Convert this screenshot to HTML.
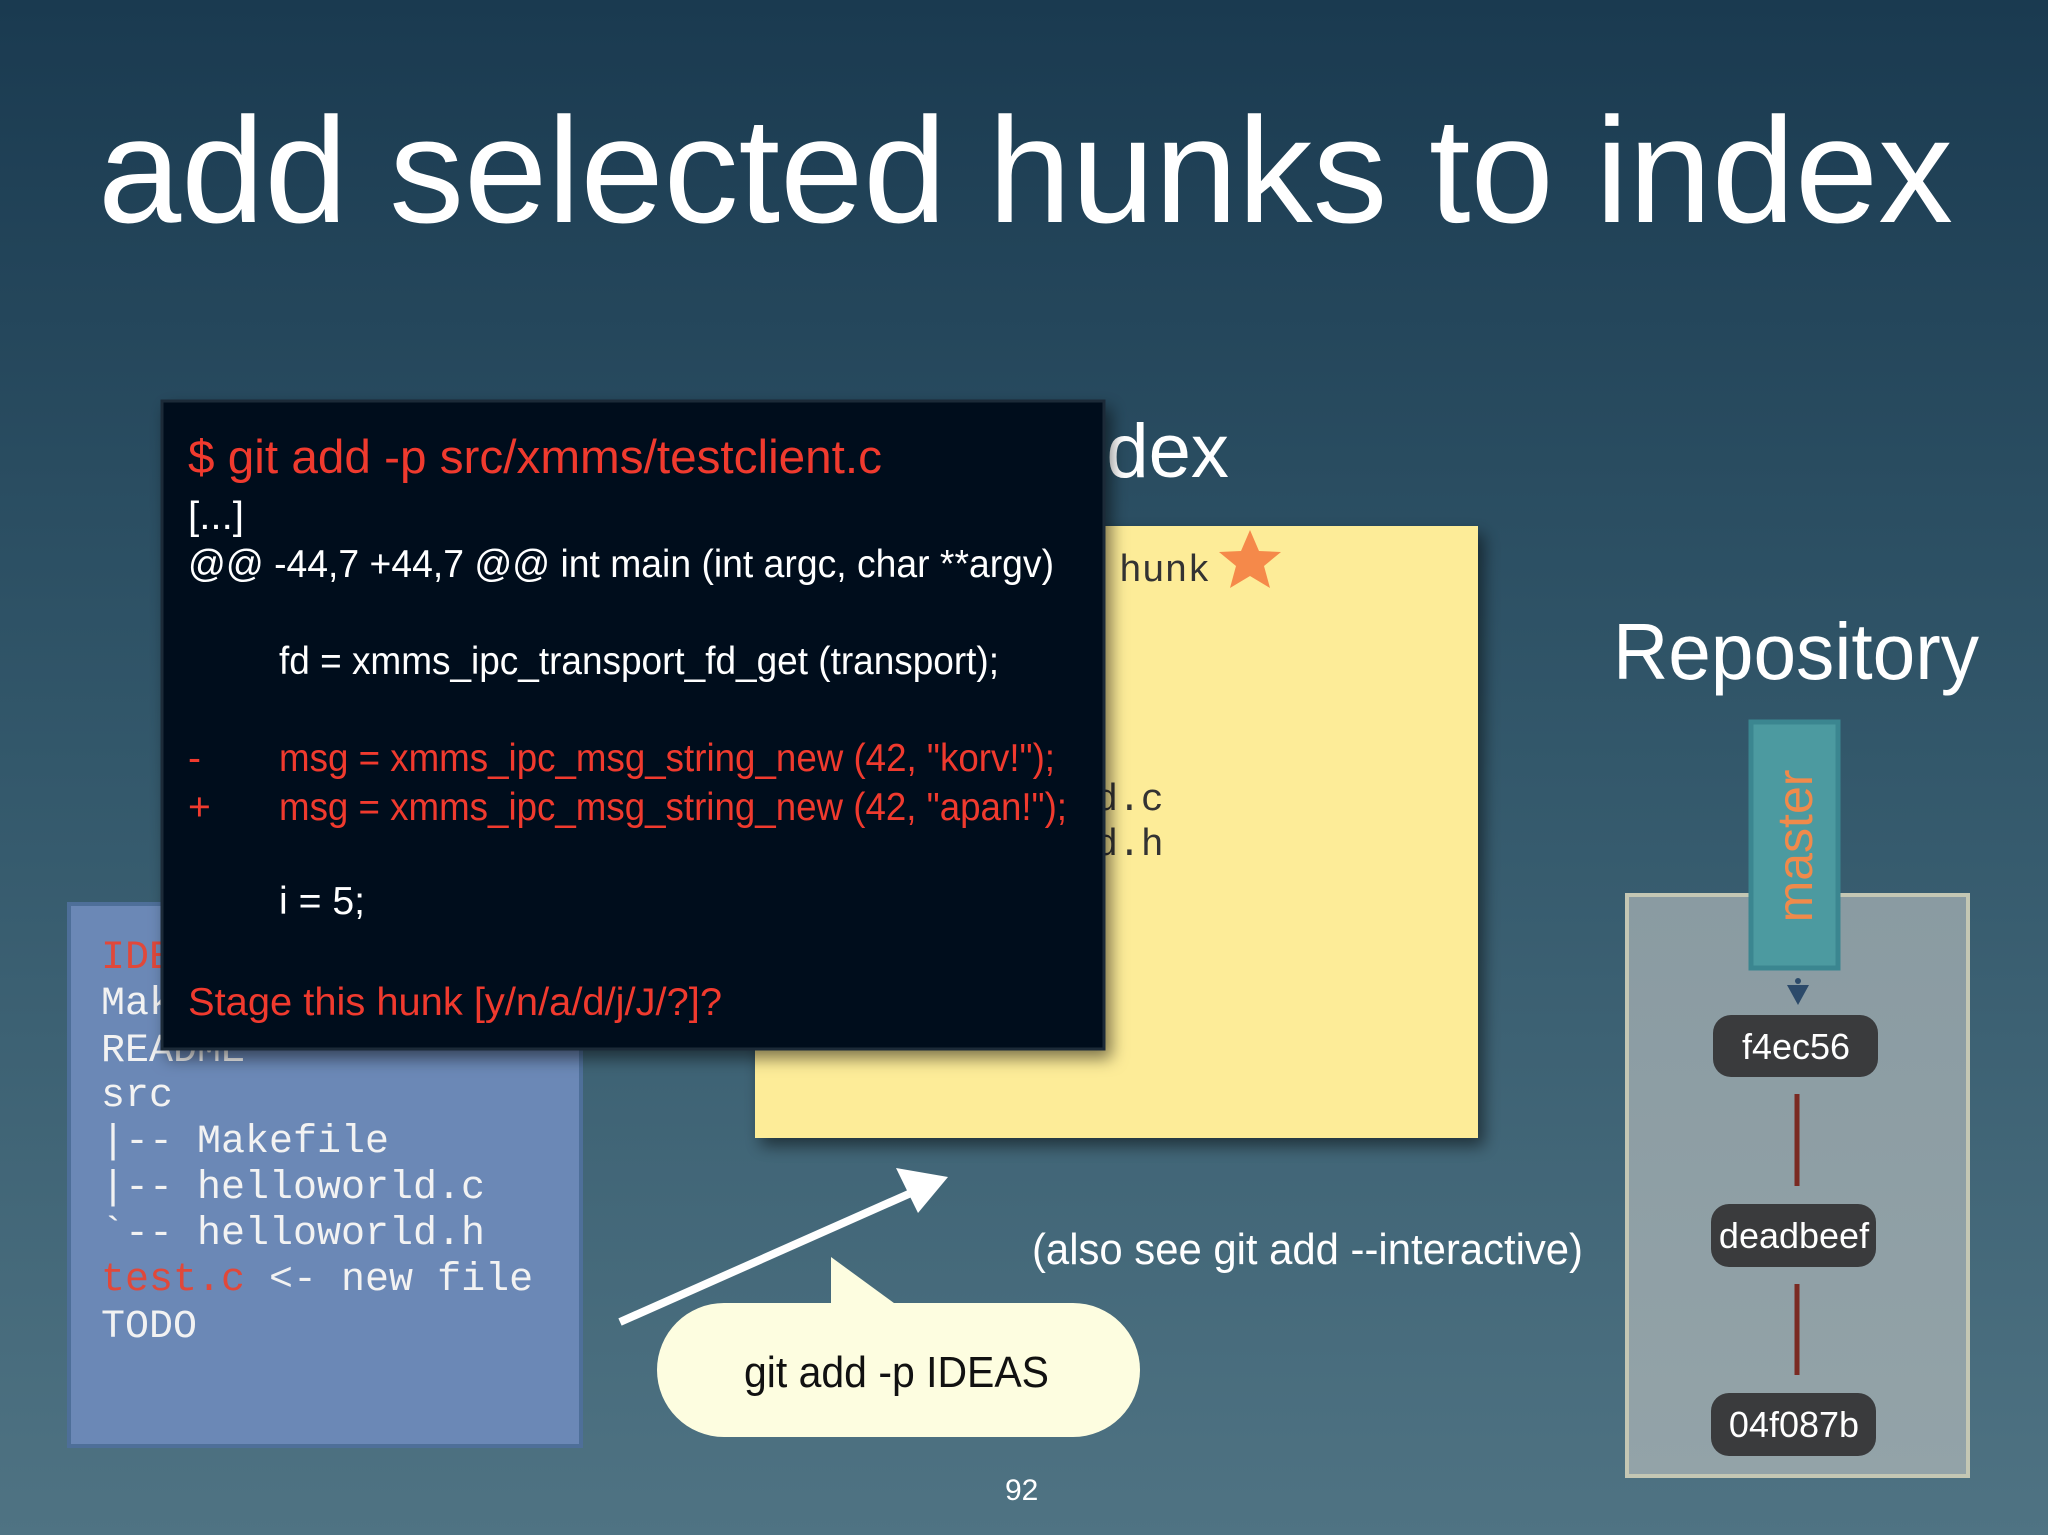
<!DOCTYPE html>
<html><head><meta charset="utf-8"><style>
html,body{margin:0;padding:0;width:2048px;height:1535px;overflow:hidden}
svg{display:block}
</style></head><body>
<svg width="2048" height="1535" viewBox="0 0 2048 1535" xmlns="http://www.w3.org/2000/svg">
<defs>
<linearGradient id="bg" x1="0" y1="0" x2="0" y2="1">
<stop offset="0" stop-color="#1a3a50"/><stop offset="0.5" stop-color="#33586b"/><stop offset="1" stop-color="#4f7383"/>
</linearGradient>
<linearGradient id="repo" x1="0" y1="0" x2="0" y2="1">
<stop offset="0" stop-color="#8a9ba2"/><stop offset="1" stop-color="#93a3a8"/>
</linearGradient>
<filter id="sh" x="-10%" y="-10%" width="130%" height="130%"><feDropShadow dx="6" dy="8" stdDeviation="8" flood-color="#000" flood-opacity="0.5"/></filter>
</defs>
<rect width="2048" height="1535" fill="url(#bg)"/>
<text x="98" y="222" font-family="Liberation Sans, sans-serif" font-size="150" fill="#fff" textLength="1855" lengthAdjust="spacingAndGlyphs">add selected hunks to index</text>

<!-- blue working dir -->
<rect x="69" y="904" width="512" height="542" fill="#6b88b6" stroke="#4e6f99" stroke-width="4"/>
<g font-family="Liberation Mono, monospace" font-size="40" fill="#f2f2f2">
<text x="101" y="968" fill="#e0483a">IDEAS</text>
<text x="101" y="1014">Makefile</text>
<text x="101" y="1061">README</text>
<text x="101" y="1106">src</text>
<text x="101" y="1152">|-- Makefile</text>
<text x="101" y="1198">|-- helloworld.c</text>
<text x="101" y="1244">`-- helloworld.h</text>
<text x="101" y="1290"><tspan fill="#e0483a">test.c</tspan> &lt;- new file</text>
<text x="101" y="1337">TODO</text>
</g>

<!-- index -->
<text x="1043" y="477" font-family="Liberation Sans, sans-serif" font-size="76" fill="#fff">Index</text>
<rect x="755" y="526" width="723" height="612" fill="#fdec98" filter="url(#sh)"/>
<g font-family="Liberation Mono, monospace" font-size="38" fill="#333">
<text x="1119" y="581">hunk</text>
<text x="890" y="810">helloworld.c</text>
<text x="890" y="855">helloworld.h</text>
</g>
<polygon points="1250,530 1259,551 1281,552 1264,566 1270,588 1250,576 1230,588 1236,566 1219,552 1241,551" fill="#f5894a"/>

<!-- terminal -->
<rect x="162" y="401" width="942" height="648" fill="#020e1a" stroke="#1e2c38" stroke-width="3" filter="url(#sh)"/>
<g font-family="Liberation Sans Narrow, Liberation Sans, sans-serif" font-size="39" fill="#fff">
<text x="188" y="473" font-size="47" fill="#f03a2e" textLength="694" lengthAdjust="spacingAndGlyphs">$ git add -p src/xmms/testclient.c</text>
<text x="188" y="529" textLength="56" lengthAdjust="spacingAndGlyphs">[...]</text>
<text x="188" y="577" textLength="866" lengthAdjust="spacingAndGlyphs">@@ -44,7 +44,7 @@ int main (int argc, char **argv)</text>
<text x="279" y="674" textLength="720" lengthAdjust="spacingAndGlyphs">fd = xmms_ipc_transport_fd_get (transport);</text>
<text x="188" y="771" fill="#f03a2e">-</text>
<text x="279" y="771" fill="#f03a2e" textLength="776" lengthAdjust="spacingAndGlyphs">msg = xmms_ipc_msg_string_new (42, "korv!");</text>
<text x="188" y="820" fill="#f03a2e">+</text>
<text x="279" y="820" fill="#f03a2e" textLength="788" lengthAdjust="spacingAndGlyphs">msg = xmms_ipc_msg_string_new (42, "apan!");</text>
<text x="279" y="914" textLength="86" lengthAdjust="spacingAndGlyphs">i = 5;</text>
<text x="188" y="1015" fill="#f03a2e" textLength="534" lengthAdjust="spacingAndGlyphs">Stage this hunk [y/n/a/d/j/J/?]?</text>
</g>

<!-- arrow -->
<line x1="620" y1="1322" x2="920" y2="1189" stroke="#fff" stroke-width="8"/>
<polygon points="948,1177 896,1168 918,1213" fill="#fff"/>

<!-- bubble -->
<rect x="657" y="1303" width="483" height="134" rx="67" fill="#fdfde0"/>
<polygon points="831,1257 898,1306 831,1306" fill="#fdfde0"/>
<text x="744" y="1387" font-family="Liberation Sans, sans-serif" font-size="44" fill="#111" textLength="305" lengthAdjust="spacingAndGlyphs">git add -p IDEAS</text>

<text x="1032" y="1264" font-family="Liberation Sans, sans-serif" font-size="44" fill="#fff" textLength="551" lengthAdjust="spacingAndGlyphs">(also see git add --interactive)</text>
<text x="1005" y="1500" font-family="Liberation Sans, sans-serif" font-size="30" fill="#fff">92</text>

<!-- repository -->
<text x="1613" y="679" font-family="Liberation Sans, sans-serif" font-size="80" fill="#fff" textLength="366" lengthAdjust="spacingAndGlyphs">Repository</text>
<rect x="1627" y="895" width="341" height="581" fill="url(#repo)" stroke="#c4c7b4" stroke-width="4"/>
<rect x="1751" y="722" width="87" height="246" fill="#4c9aa0" stroke="#3b8690" stroke-width="5"/>
<text transform="translate(1812,846) rotate(-90)" text-anchor="middle" font-family="Liberation Sans, sans-serif" font-size="50" fill="#f08a4b">master</text>
<polygon points="1787,985 1809,985 1798,1005" fill="#2c4a6a"/>
<circle cx="1798" cy="981" r="3" fill="#2c4a6a"/>
<line x1="1797" y1="1094" x2="1797" y2="1186" stroke="#7a2a22" stroke-width="5"/>
<line x1="1797" y1="1284" x2="1797" y2="1375" stroke="#7a2a22" stroke-width="5"/>
<g font-family="Liberation Sans, sans-serif" font-size="36" fill="#fff" text-anchor="middle">
<rect x="1713" y="1015" width="165" height="62" rx="18" fill="#3a3b3d"/>
<text x="1796" y="1059">f4ec56</text>
<rect x="1711" y="1204" width="165" height="63" rx="18" fill="#3a3b3d"/>
<text x="1794" y="1248">deadbeef</text>
<rect x="1711" y="1393" width="165" height="63" rx="18" fill="#3a3b3d"/>
<text x="1794" y="1437">04f087b</text>
</g>
</svg>
</body></html>
